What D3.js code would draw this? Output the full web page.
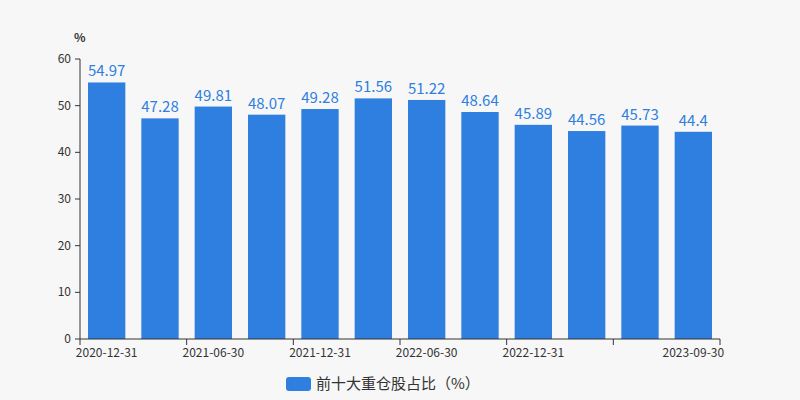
<!DOCTYPE html>
<html><head><meta charset="utf-8">
<script src="https://cdn.jsdelivr.net/npm/d3@7"></script>
<style>body{margin:0;background:#f7f7f7}svg{display:block;font-family:"Microsoft YaHei","Noto Sans CJK SC",sans-serif}</style>
</head><body><svg id="c" width="800" height="400"></svg>
<script>
const categories=["2020-12-31","2021-03-31","2021-06-30","2021-09-30","2021-12-31","2022-03-31","2022-06-30","2022-09-30","2022-12-31","2023-03-31","2023-06-30","2023-09-30"];
const values=[54.97,47.28,49.81,48.07,49.28,51.56,51.22,48.64,45.89,44.56,45.73,44.4];
const valueLabels=["54.97","47.28","49.81","48.07","49.28","51.56","51.22","48.64","45.89","44.56","45.73","44.4"];
const shownLabels=["2020-12-31","2021-06-30","2021-12-31","2022-06-30","2022-12-31","2023-09-30"];
const yTicks=[0,10,20,30,40,50,60];
const seriesName="前十大重仓股占比（%）";
const color="#2e7fe0";
const svg=d3.select("#c");
svg.append("rect").attr("width",800).attr("height",400).attr("fill","#f7f7f7");
const x=d3.scaleBand().domain(categories).range([80,720]).paddingInner(0.3).paddingOuter(0.15);
const xb=d3.scaleBand().domain(categories).range([80,720]);
const y=d3.scaleLinear().domain([0,60]).range([339,59]);
const g=svg.append("g");
g.append("line").attr("x1",80).attr("x2",80).attr("y1",59).attr("y2",339).attr("stroke","#333");
yTicks.forEach(t=>{
  g.append("line").attr("x1",75).attr("x2",80).attr("y1",y(t)).attr("y2",y(t)).attr("stroke","#333");
  g.append("text").attr("x",71).attr("y",y(t)+4).attr("text-anchor","end").attr("font-size",12).attr("fill","#333").text(t);
});
g.append("text").attr("x",74).attr("y",42).attr("font-size",12).attr("font-weight","bold").attr("fill","#333").text("%");
g.selectAll(".bar").data(values).join("rect").attr("x",(d,i)=>x(categories[i])).attr("width",x.bandwidth())
 .attr("y",d=>y(d)).attr("height",d=>339-y(d)).attr("fill",color);
g.selectAll(".vl").data(values).join("text").attr("x",(d,i)=>x(categories[i])+x.bandwidth()/2).attr("y",d=>y(d)-6)
 .attr("text-anchor","middle").attr("font-size",15).attr("fill",color).text((d,i)=>valueLabels[i]);
g.append("line").attr("x1",80).attr("x2",720).attr("y1",339).attr("y2",339).attr("stroke","#333");
[0,2,4,6,8,10,12].forEach(k=>{
  const xx=k<12?xb(categories[k]):720;
  g.append("line").attr("x1",xx).attr("x2",xx).attr("y1",339).attr("y2",345).attr("stroke","#333");
});
shownLabels.forEach(l=>{
  g.append("text").attr("x",xb(l)+xb.bandwidth()/2).attr("y",357).attr("text-anchor","middle").attr("font-size",12).attr("fill","#333").text(l);
});
const lg=svg.append("g");
lg.append("rect").attr("x",286).attr("y",377).attr("width",25).attr("height",14).attr("rx",3).attr("fill",color);
lg.append("text").attr("x",316).attr("y",389).attr("font-size",15).attr("fill","#333").text(seriesName);
</script></body></html>
